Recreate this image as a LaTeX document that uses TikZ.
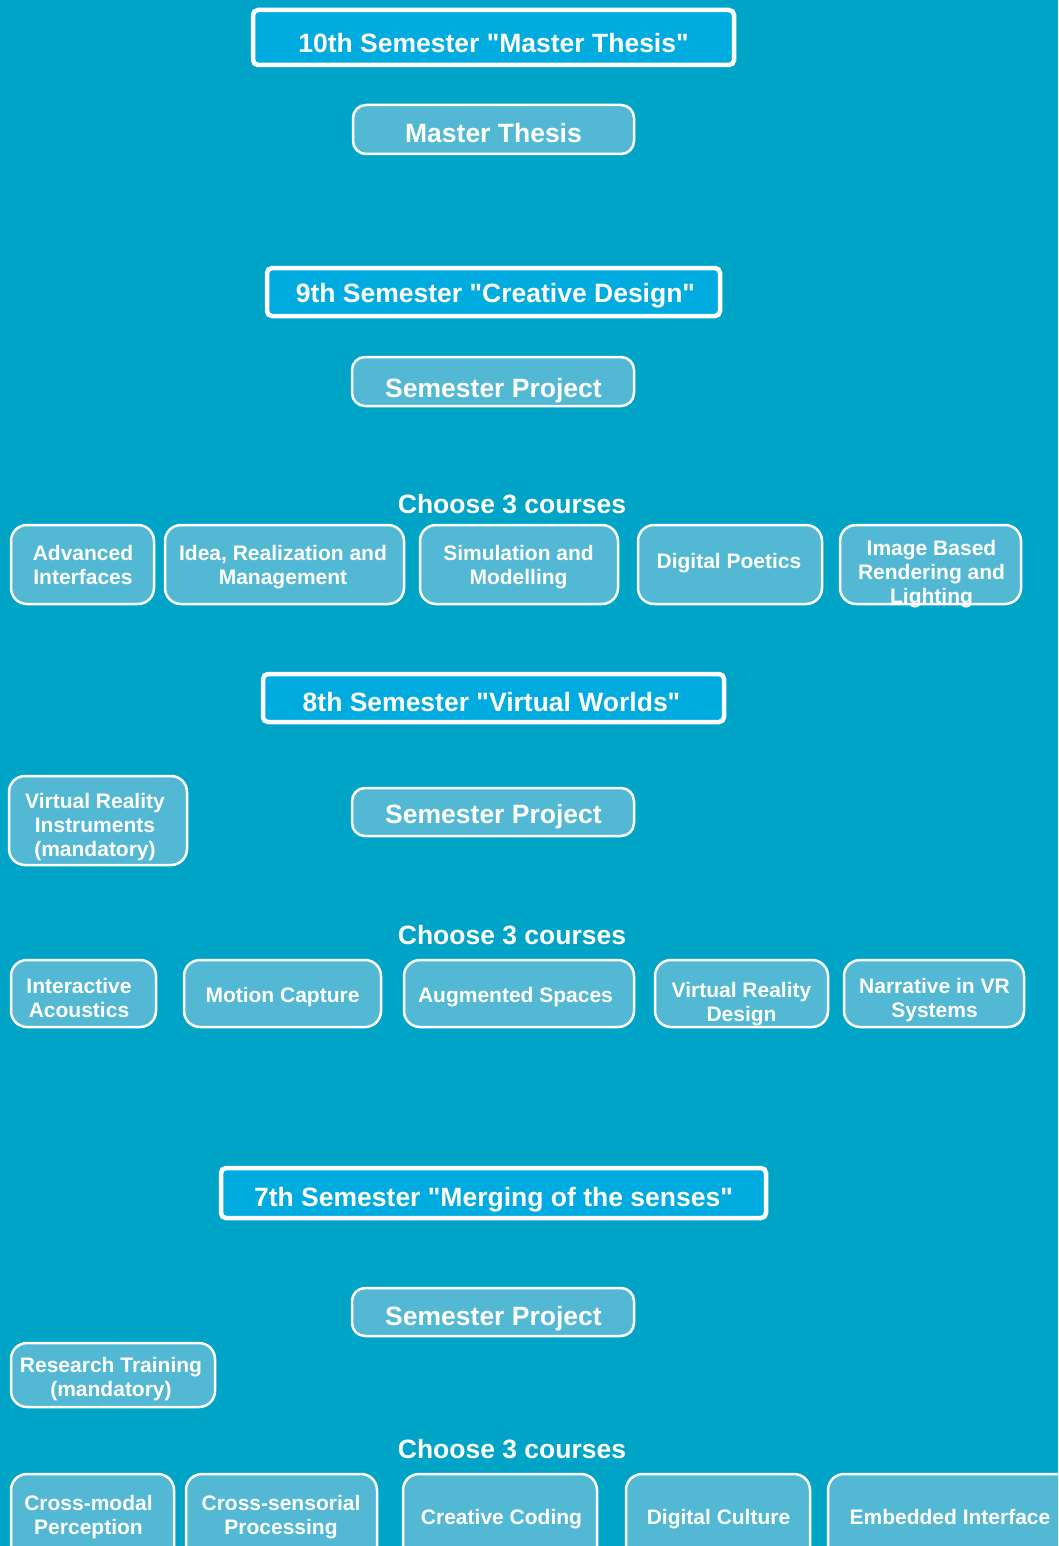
\documentclass[tikz,border=0pt]{standalone}
\usepackage{fontspec}
\setmainfont{Liberation Sans}[Ligatures=TeXOff]
\definecolor{bgc}{HTML}{00A4C6}
\definecolor{headfill}{HTML}{00ABDF}
\definecolor{boxfill}{HTML}{52B8D3}
\tikzset{
  headbox/.style={draw=white, line width=4.5pt, fill=headfill, rounded corners=5pt, inner sep=0pt},
  spbox/.style={draw=white, line width=2.5pt, fill=boxfill, rounded corners=13pt, inner sep=0pt},
  cbox/.style={draw=white, line width=2.5pt, fill=boxfill, rounded corners=16pt, inner sep=0pt},
  bigtxt/.style={text=white, font=\fontsize{26.5}{30}\selectfont\bfseries, inner sep=0pt, anchor=base},
  smalltxt/.style={text=white, font=\fontsize{21}{24}\selectfont\bfseries, inner sep=0pt, anchor=base, align=center},
}
\begin{document}
\begin{tikzpicture}[x=1pt,y=-1pt]
\useasboundingbox (0,0) rectangle (1058,1546);
\clip (0,0) rectangle (1058,1546);
\fill[bgc] (0,0) rectangle (1058,1546);
% 10th
\node[headbox, minimum width=481, minimum height=55] (h10) at (493.5,37.5) {};
\node[bigtxt] (h10t) at (493.5,53) {10th Semester "Master Thesis"};
\node[spbox, minimum width=281, minimum height=49] (mt) at (493.5,129.5) {};
\node[bigtxt] (mtt) at (493.5,143) {Master Thesis};
% 9th
\node[headbox, minimum width=453, minimum height=48] (h9) at (493.5,292) {};
\node[bigtxt] (h9t) at (495.5,302) {9th Semester "Creative Design"};
\node[spbox, minimum width=282, minimum height=49] (sp9) at (493,381.5) {};
\node[bigtxt] (sp9t) at (493.5,397) {Semester Project};
\node[bigtxt] (ch9) at (512,513) {Choose 3 courses};
\node[cbox, minimum width=143, minimum height=79] (a1) at (82.5,564.5) {};
\node[cbox, minimum width=239, minimum height=79] (a2) at (284.5,564.5) {};
\node[cbox, minimum width=198, minimum height=79] (a3) at (519,564.5) {};
\node[cbox, minimum width=184, minimum height=79] (a4) at (730,564.5) {};
\node[cbox, minimum width=181, minimum height=79] (a5) at (930.5,564.5) {};
\node[smalltxt] (a1t) at (83,584) {Advanced\\Interfaces};
\node[smalltxt] (a2t) at (283,584) {Idea, Realization and\\Management};
\node[smalltxt] (a3t) at (518.5,584) {Simulation and\\Modelling};
\node[smalltxt] (a4t) at (729,568) {Digital Poetics};
\node[smalltxt] (a5t) at (931.5,603) {Image Based\\Rendering and\\Lighting};
% 8th
\node[headbox, minimum width=461, minimum height=48] (h8) at (493.5,698) {};
\node[bigtxt] (h8t) at (491.5,711) {8th Semester "Virtual Worlds"};
\node[cbox, minimum width=178, minimum height=89] (vri) at (98,820.5) {};
\node[smalltxt] (vrit) at (95,856) {Virtual Reality\\Instruments\\(mandatory)};
\node[spbox, minimum width=282, minimum height=48] (sp8) at (493,812) {};
\node[bigtxt] (sp8t) at (493.5,823) {Semester Project};
\node[bigtxt] (ch8) at (512,944) {Choose 3 courses};
\node[cbox, minimum width=145, minimum height=67] (b1) at (83.5,993.5) {};
\node[cbox, minimum width=197, minimum height=67] (b2) at (282.5,993.5) {};
\node[cbox, minimum width=230, minimum height=67] (b3) at (519,993.5) {};
\node[cbox, minimum width=173, minimum height=67] (b4) at (741.5,993.5) {};
\node[cbox, minimum width=180, minimum height=67] (b5) at (934,993.5) {};
\node[smalltxt] (b1t) at (79,1017) {Interactive\\Acoustics};
\node[smalltxt] (b2t) at (282.5,1002) {Motion Capture};
\node[smalltxt] (b3t) at (515.5,1002) {Augmented Spaces};
\node[smalltxt] (b4t) at (741.5,1021) {Virtual Reality\\Design};
\node[smalltxt] (b5t) at (934.5,1017) {Narrative in VR\\Systems};
% 7th
\node[headbox, minimum width=545, minimum height=50] (h7) at (493.5,1193) {};
\node[bigtxt] (h7t) at (493.5,1206) {7th Semester "Merging of the senses"};
\node[spbox, minimum width=282, minimum height=48] (sp7) at (493,1312) {};
\node[bigtxt] (sp7t) at (493.5,1325) {Semester Project};
\node[cbox, minimum width=204, minimum height=64] (rt) at (113,1375) {};
\node[smalltxt] (rtt) at (111,1396) {Research Training\\(mandatory)};
\node[bigtxt] (ch7) at (512,1458) {Choose 3 courses};
\node[cbox, minimum width=163, minimum height=91] (c1) at (92.5,1519.5) {};
\node[cbox, minimum width=191, minimum height=91] (c2) at (281.5,1519.5) {};
\node[cbox, minimum width=194, minimum height=91] (c3) at (500,1519.5) {};
\node[cbox, minimum width=184, minimum height=91] (c4) at (718,1519.5) {};
\node[cbox, minimum width=246, minimum height=91] (c5) at (951,1519.5) {};
\node[smalltxt] (c1t) at (88.5,1534) {Cross-modal\\Perception};
\node[smalltxt] (c2t) at (281,1534) {Cross-sensorial\\Processing};
\node[smalltxt] (c3t) at (501.5,1524) {Creative Coding};
\node[smalltxt] (c4t) at (718.5,1524) {Digital Culture};
\node[smalltxt] (c5t) at (950,1524) {Embedded Interface};
\end{tikzpicture}
\end{document}
